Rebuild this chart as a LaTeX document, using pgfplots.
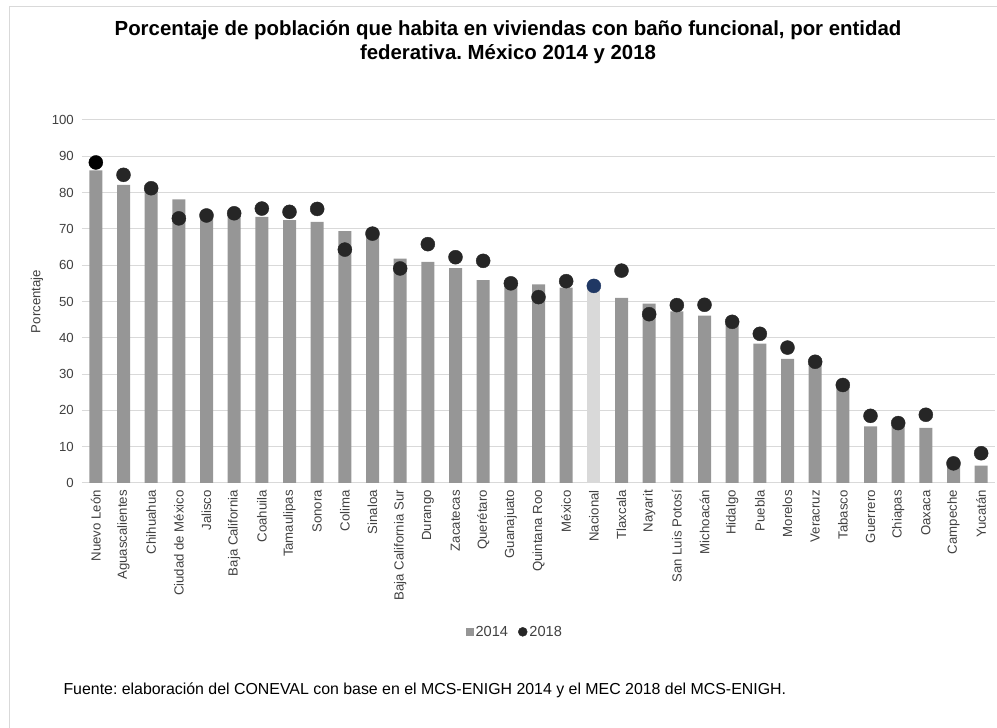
\documentclass[border=0pt]{standalone}
\usepackage{fontspec}
\setmainfont{Liberation Sans}
\usepackage{pgfplots}
\pgfplotsset{compat=1.18}
\definecolor{barg}{HTML}{969696}
\definecolor{nacg}{HTML}{D9D9D9}
\definecolor{gridc}{HTML}{D9D9D9}
\definecolor{dotc}{HTML}{262626}
\definecolor{bluec}{HTML}{203864}
\definecolor{txtc}{HTML}{404040}
\frenchspacing
\begin{document}
\begin{tikzpicture}[x=1pt,y=1pt]
\useasboundingbox (0,0) rectangle (997,728);
\draw[color=gridc, line width=1pt] (9.5,-30) rectangle (1030,721);
\node[align=center, font=\fontsize{20.4}{24}\selectfont\bfseries, text=black] at (508,686)
  {Porcentaje de población que habita en viviendas con baño funcional, por entidad\\federativa. México 2014 y 2018};
\node[anchor=west, font=\fontsize{15.9}{18}\selectfont, text=black] at (60,38)
  {Fuente: elaboración del CONEVAL con base en el MCS-ENIGH 2014 y el MEC 2018 del MCS-ENIGH.};
\begin{axis}[
  at={(82pt,245pt)}, anchor=south west,
  width=913pt, height=363pt, scale only axis,
  xmin=-0.5, xmax=32.5, ymin=0, ymax=100,
  ytick={0,10,...,100},
  xtick={0,...,32},
  xticklabels={Nuevo León,Aguascalientes,Chihuahua,Ciudad de México,Jalisco,Baja California,Coahuila,Tamaulipas,Sonora,Colima,Sinaloa,Baja California Sur,Durango,Zacatecas,Querétaro,Guanajuato,Quintana Roo,México,Nacional,Tlaxcala,Nayarit,San Luis Potosí,Michoacán,Hidalgo,Puebla,Morelos,Veracruz,Tabasco,Guerrero,Chiapas,Oaxaca,Campeche,Yucatán},
  axis x line*=bottom, axis y line*=left,
  x axis line style={draw=gridc, line width=1pt, -},
  y axis line style={draw=none},
  tick style={draw=none},
  ymajorgrids, grid style={draw=gridc, line width=1pt},
  /pgf/number format/assume math mode=true,
  x tick label style={rotate=90, anchor=east, inner sep=0pt, font=\fontsize{13.2}{15}\selectfont, text=txtc},
  xticklabel shift=7pt,
  y tick label style={anchor=east, inner sep=0pt, font=\fontsize{13.2}{15}\selectfont, text=txtc},
  yticklabel shift=8pt,
  ylabel={Porcentaje},
  every axis y label/.style={at={(axis description cs:-0.0493,0.5)}, rotate=90, anchor=center,
    font=\fontsize{13.2}{15}\selectfont, text=txtc},
  legend style={at={(0.474,-0.41)}, anchor=center, draw=none, fill=none, legend columns=2,
    font=\fontsize{14.6}{17}\selectfont, text=txtc, /tikz/every even column/.append style={column sep=8pt}},
  legend cell align=left,
]
\addplot[ybar, bar width=13pt, bar shift=0pt, fill=barg, draw=none,
  legend image code/.code={\fill[barg] (0pt,-4pt) rectangle (8pt,4pt);}]
  coordinates {(0,86.1) (1,82.1) (2,81.0) (3,78.1) (4,73.5) (5,74.0) (6,73.3) (7,72.4) (8,71.9) (9,69.4) (10,68.3) (11,61.8) (12,60.9) (13,59.2) (14,55.9) (15,54.5) (16,54.7) (17,53.8) (19,51.0) (20,49.4) (21,47.3) (22,46.1) (23,43.5) (24,38.4) (25,34.2) (26,32.8) (27,26.3) (28,15.6) (29,15.8) (30,15.2) (31,5.0) (32,4.8)};
\addlegendentry{2014}
\addplot[ybar, bar width=13pt, bar shift=0pt, fill=nacg, draw=none, forget plot]
  coordinates {(18,53.5)};
\addplot[only marks, mark=*, mark size=7pt, color=dotc,
  legend image code/.code={\fill[dotc] (4pt,0pt) circle (4.5pt);}]
  coordinates {(1,84.9) (2,81.2) (3,72.9) (4,73.7) (5,74.3) (6,75.6) (7,74.7) (8,75.5) (9,64.3) (10,68.7) (11,59.1) (12,65.8) (13,62.2) (14,61.2) (15,55.0) (16,51.2) (17,55.6) (19,58.5) (20,46.5) (21,49.0) (22,49.1) (23,44.4) (24,41.1) (25,37.3) (26,33.4) (27,27.0) (28,18.5) (29,16.5) (30,18.8) (31,5.4) (32,8.2)};
\addlegendentry{2018}
\addplot[only marks, mark=*, mark size=7pt, color=black, forget plot] coordinates {(0,88.3)};
\addplot[only marks, mark=*, mark size=7pt, color=bluec, forget plot] coordinates {(18,54.3)};
\end{axis}
\end{tikzpicture}
\end{document}
